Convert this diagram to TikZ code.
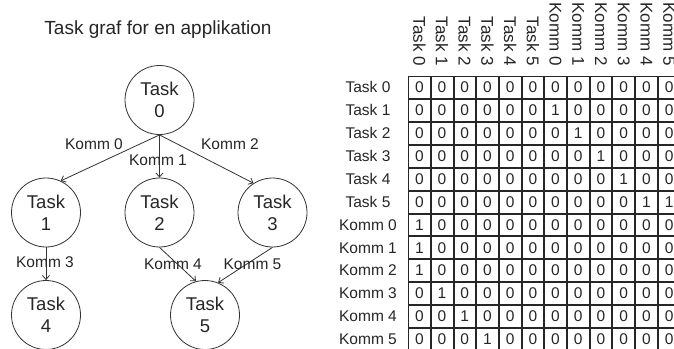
\documentclass[tikz,border=0pt]{standalone}
\usepackage{fontspec}
\setmainfont{Liberation Sans}
\usetikzlibrary{arrows.meta}

\begin{document}
\begin{tikzpicture}[x=1pt,y=-1pt,
  task/.style={circle, draw=black!80, line width=0.8pt, minimum size=69pt,
    inner sep=0pt, align=center, font=\fontsize{18.5}{22}\selectfont, text=black!85},
  flow/.style={draw=black!80, line width=0.8pt, -{Straight Barb[length=4pt,width=7pt]}},
  komm/.style={font=\fontsize{15.5}{18}\selectfont, text=black!85, inner sep=0pt},
  collab/.style={font=\fontsize{17}{20}\selectfont, text=black!85, rotate=-90,
    anchor=east, inner sep=0pt},
  cell/.style={draw=black!85, line width=0.7pt, minimum width=21.7pt, minimum height=21.9pt,
    inner sep=0pt, font=\fontsize{15.5}{18}\selectfont, text=black!85}
]
\useasboundingbox (0,0) rectangle (674,348);

% title
\node[font=\fontsize{19}{22}\selectfont, text=black!85] (title) at (158,30) {Task graf for en applikation};

% task graph
\node[task] (t0) at (159.5,100) {Task\\0};
\node[task] (t1) at (46,212.5) {Task\\1};
\node[task] (t2) at (159.5,212.5) {Task\\2};
\node[task] (t3) at (272.5,212.5) {Task\\3};
\node[task] (t4) at (46,315) {Task\\4};
\node[task] (t5) at (205,315) {Task\\5};

\draw[flow] (t0.south) -- (t1.65);
\draw[flow] (t0.south) -- (t2.north);
\draw[flow] (t0.south) -- (t3.123);
\draw[flow] (t1.south) -- (t4.north);
\draw[flow] (t2.south) -- (t5.105);
\draw[flow] (t3.south) -- (t5.68);

\node[komm] (k0) at (94,144) {Komm 0};
\node[komm] (k1) at (158,160) {Komm 1};
\node[komm] (k2) at (230,144) {Komm 2};
\node[komm] (k3) at (45,262) {Komm 3};
\node[komm] (k4) at (173,264) {Komm 4};
\node[komm] (k5) at (252.5,264) {Komm 5};

% dependency matrix: row and column labels
\foreach \name [count=\r from 0] in {Task 0,Task 1,Task 2,Task 3,Task 4,Task 5,
    Komm 0,Komm 1,Komm 2,Komm 3,Komm 4,Komm 5}
  \node[komm] (row-\r) at (368,{87.45+22.9*\r}) {\name};
\foreach \name [count=\c from 0] in {Task 0,Task 1,Task 2,Task 3,Task 4,Task 5,
    Komm 0,Komm 1,Komm 2,Komm 3,Komm 4,Komm 5}
  \node[collab] (col-\c) at ({419.35+22.7*\c},66) {\name};

% dependency matrix: cells
\foreach \vals [count=\r from 0] in {
    {0,0,0,0,0,0,0,0,0,0,0,0},
    {0,0,0,0,0,0,1,0,0,0,0,0},
    {0,0,0,0,0,0,0,1,0,0,0,0},
    {0,0,0,0,0,0,0,0,1,0,0,0},
    {0,0,0,0,0,0,0,0,0,1,0,0},
    {0,0,0,0,0,0,0,0,0,0,1,1},
    {1,0,0,0,0,0,0,0,0,0,0,0},
    {1,0,0,0,0,0,0,0,0,0,0,0},
    {1,0,0,0,0,0,0,0,0,0,0,0},
    {0,1,0,0,0,0,0,0,0,0,0,0},
    {0,0,1,0,0,0,0,0,0,0,0,0},
    {0,0,0,1,0,0,0,0,0,0,0,0}}
  \foreach \v [count=\c from 0] in \vals
    \node[cell] (m-\r-\c) at ({419.35+22.7*\c},{87.45+22.9*\r}) {\v};
\end{tikzpicture}
\end{document}
